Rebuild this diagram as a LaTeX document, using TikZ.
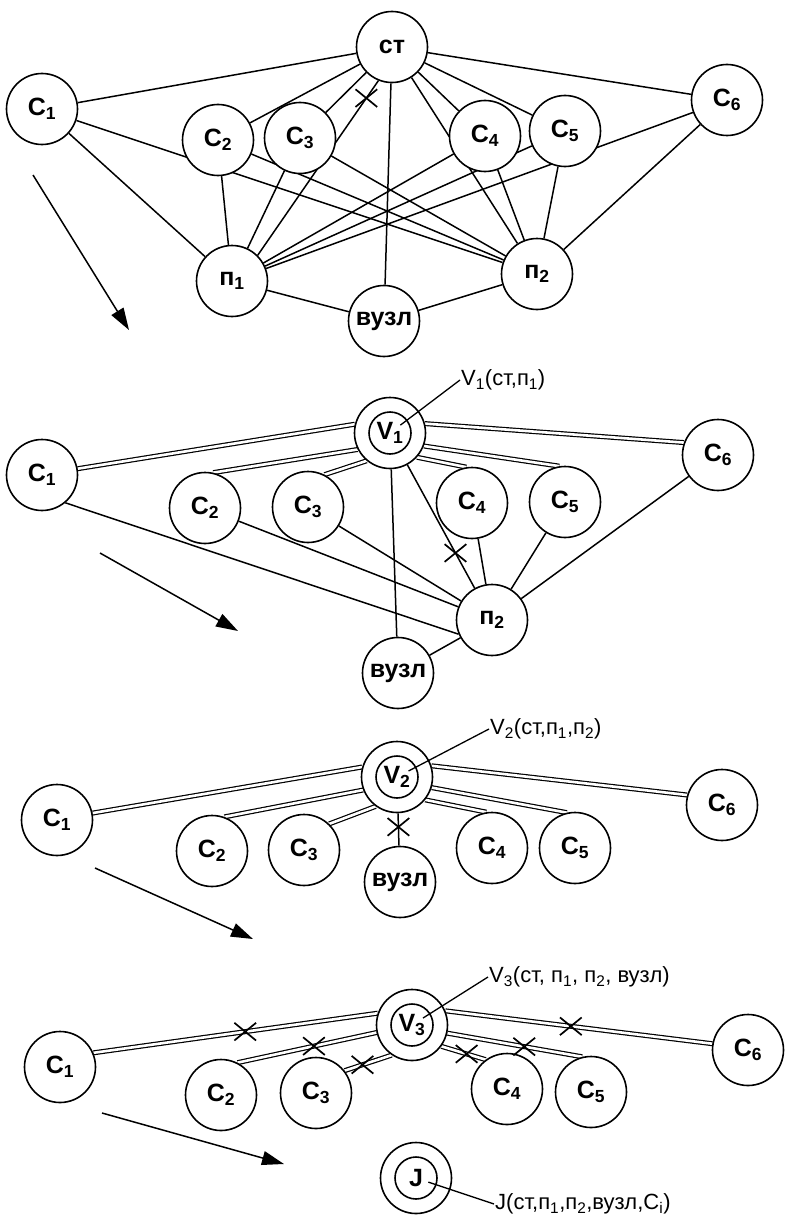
\documentclass[tikz,border=0pt]{standalone}
\usepackage{fontspec}
\setmainfont{Liberation Sans}
\usetikzlibrary{arrows.meta,shapes.misc}
\pgfdeclarelayer{background}
\pgfdeclarelayer{paper}
\pgfsetlayers{paper,background,main}
\begin{document}
\begin{tikzpicture}[x=1pt,y=-1pt,
  nd/.style={circle,draw,fill=white,line width=1.6pt,minimum size=71pt,inner sep=0pt,
    font=\fontsize{25}{25}\selectfont\bfseries},
  ring/.style={circle,draw,line width=1.6pt,minimum size=42pt,inner sep=0pt,
    font=\fontsize{25}{25}\selectfont\bfseries},
  ln/.style={line width=1.5pt},
  dbl/.style={double,double distance=2.6pt,line width=1.2pt},
  xmark/.style={cross out,draw,line width=1.7pt,minimum width=20pt,minimum height=16pt,inner sep=0pt},
  arr/.style={line width=1.5pt,-{Triangle[length=22pt,width=14pt]}},
  lab/.style={anchor=west,inner sep=1pt,font=\fontsize{22}{22}\selectfont},
  lead/.style={line width=1.3pt,shorten <=13pt}
]
\useasboundingbox (0,0) rectangle (784,1220);
\begin{pgfonlayer}{paper}
\fill[white] (0,0) rectangle (784,1220);
\end{pgfonlayer}

% ---------------- panel 1 ----------------
\node[nd] (pst) at (392,47) {ст};
\node[nd] (pc1) at (42,109) {C\textsubscript{1}};
\node[nd] (pc2) at (218,140) {C\textsubscript{2}};
\node[nd] (pc3) at (300,138) {C\textsubscript{3}};
\node[nd] (pc4) at (485,136) {C\textsubscript{4}};
\node[nd] (pc5) at (565,131) {C\textsubscript{5}};
\node[nd] (pc6) at (727,100) {C\textsubscript{6}};
\node[nd] (pn1) at (232,281) {п\textsubscript{1}};
\node[nd] (pn2) at (537,274) {п\textsubscript{2}};
\node[nd] (pvz) at (384,321) {вузл};
\begin{pgfonlayer}{background}
\foreach \c in {pc1,pc2,pc3,pc4,pc5,pc6,pn2,pvz} \draw[ln] (pst) -- (\c);
\draw[ln] (pst.248) -- (pn1.45);
\foreach \c in {pc1,pc2,pc3,pc4,pc5,pc6,pvz} {\draw[ln] (pn1) -- (\c); \draw[ln] (pn2) -- (\c);}
\end{pgfonlayer}
\path (pst.248) -- node[xmark,pos=0.10]{} (pn1.45);
\coordinate (a1s) at (33,175); \coordinate (a1e) at (129,330);
\draw[arr] (a1s) -- (a1e);

% ---------------- panel 2 ----------------
\node[nd] (qv) at (390,433) {};
\node[ring] (qvi) at (qv) {V\textsubscript{1}};
\node[nd] (qc1) at (42,475) {C\textsubscript{1}};
\node[nd] (qc2) at (205,508) {C\textsubscript{2}};
\node[nd] (qc3) at (308,507) {C\textsubscript{3}};
\node[nd] (qc4) at (472,503) {C\textsubscript{4}};
\node[nd] (qc5) at (565,502) {C\textsubscript{5}};
\node[nd] (qc6) at (718,455) {C\textsubscript{6}};
\node[nd] (qn2) at (492,620) {п\textsubscript{2}};
\node[nd] (qvz) at (398,673) {вузл};
\begin{pgfonlayer}{background}
\draw[dbl] (qv.166) -- (qc1.10);
\draw[dbl] (qv.207) -- (qc2.77);
\draw[dbl] (qv.230) -- (qc3.63);
\draw[dbl] (qv.318) -- (qc4.99);
\draw[dbl] (qv.339) -- (qc5.99);
\draw[dbl] (qv.15) -- (qc6.160);
\draw[ln] (qv) -- (qvz);
\draw[ln] (qv) -- (qn2);
\draw[ln] (qc1.-50) -- (qn2.203);
\foreach \c in {qc2,qc3,qc4,qc5,qc6,qvz} \draw[ln] (qn2) -- (\c);
\end{pgfonlayer}
\path (qv) -- node[xmark,pos=0.715]{} (qn2);
\node[lab] (ql) at (460,380) {V\textsubscript{1}(ст,п\textsubscript{1})};
\draw[lead] (qvi.center) -- (ql.west);
\coordinate (a2s) at (100,553); \coordinate (a2e) at (238,631);
\draw[arr] (a2s) -- (a2e);

% ---------------- panel 3 ----------------
\node[nd] (rv) at (397,777) {};
\node[ring] (rvi) at (rv) {V\textsubscript{2}};
\node[nd] (rc1) at (57,820) {C\textsubscript{1}};
\node[nd] (rc2) at (212,851) {C\textsubscript{2}};
\node[nd] (rc3) at (304,850) {C\textsubscript{3}};
\node[nd] (rc4) at (492,848) {C\textsubscript{4}};
\node[nd] (rc5) at (575,848) {C\textsubscript{5}};
\node[nd] (rc6) at (722,805) {C\textsubscript{6}};
\node[nd] (rvz) at (400,882) {вузл};
\begin{pgfonlayer}{background}
\draw[dbl] (rv.164) -- (rc1.11);
\draw[dbl] (rv.201) -- (rc2.70);
\draw[dbl] (rv.234) -- (rc3.46);
\draw[dbl] (rv.321) -- (rc4.99);
\draw[dbl] (rv.343) -- (rc5.103);
\draw[dbl] (rv.18) -- (rc6.164);
\draw[ln] (rv) -- (rvz);
\end{pgfonlayer}
\path (rv) -- node[xmark,pos=0.42]{} (rvz);
\node[lab] (rl) at (489,729) {V\textsubscript{2}(ст,п\textsubscript{1},п\textsubscript{2})};
\draw[lead] (rvi.center) -- (rl.west);
\coordinate (a3s) at (95,868); \coordinate (a3e) at (253,939);
\draw[arr] (a3s) -- (a3e);

% ---------------- panel 4 ----------------
\node[nd] (sv) at (412,1025) {};
\node[ring] (svi) at (sv) {V\textsubscript{3}};
\node[nd] (sc1) at (60,1067) {C\textsubscript{1}};
\node[nd] (sc2) at (221,1095) {C\textsubscript{2}};
\node[nd] (sc3) at (316,1093) {C\textsubscript{3}};
\node[nd] (sc4) at (507,1089) {C\textsubscript{4}};
\node[nd] (sc5) at (591,1092) {C\textsubscript{5}};
\node[nd] (sc6) at (748,1050) {C\textsubscript{6}};
\begin{pgfonlayer}{background}
\draw[dbl] (sv.161) -- (sc1.23);
\draw[dbl] (sv.192) -- (sc2.63);
\draw[dbl] (sv.236) -- (sc3.38);
\draw[dbl] (sv.324) -- (sc4.126);
\draw[dbl] (sv.347) -- (sc5.104);
\draw[dbl] (sv.23) -- (sc6.170);
\end{pgfonlayer}
\path (sv.161) -- node[xmark,pos=0.466]{} (sc1.23);
\path (sv.192) -- node[xmark,pos=0.45]{} (sc2.63);
\path (sv.236) -- node[xmark,pos=0.62]{} (sc3.38);
\path (sv.324) -- node[xmark,pos=0.57]{} (sc4.126);
\path (sv.347) -- node[xmark,pos=0.57]{} (sc5.104);
\path (sv.23) -- node[xmark,pos=0.47]{} (sc6.170);
\node[lab] (sl) at (488,977) {V\textsubscript{3}(ст, п\textsubscript{1}, п\textsubscript{2}, вузл)};
\draw[lead] (svi.center) -- (sl.west);
\coordinate (a4s) at (102,1113); \coordinate (a4e) at (284,1164);
\draw[arr] (a4s) -- (a4e);
\node[nd] (jv) at (416,1178) {};
\node[ring] (jvi) at (jv) {J};
\node[lab] (jl) at (494,1204) {J(ст,п\textsubscript{1},п\textsubscript{2},вузл,C\textsubscript{i})};
\draw[lead] (jvi.center) -- (jl.west);
\end{tikzpicture}
\end{document}
